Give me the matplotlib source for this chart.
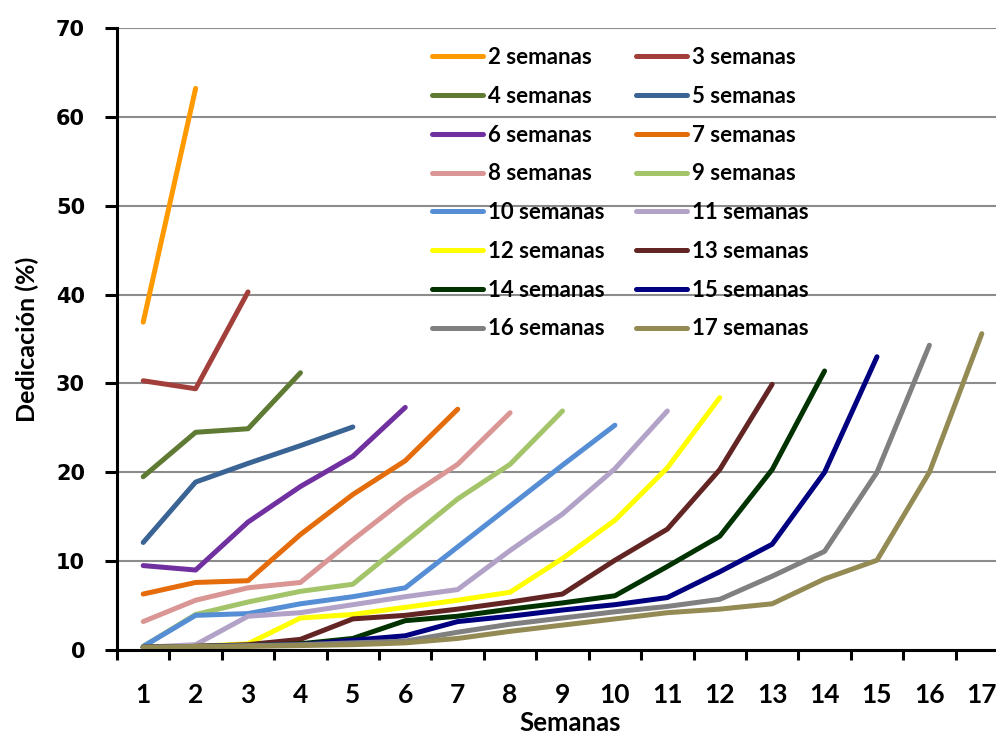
import matplotlib
matplotlib.use("Agg")
import matplotlib.pyplot as plt
from matplotlib.ticker import FixedLocator

# --- DATA (Dedicación por semana) ---
weeks = list(range(1, 18))
s2 = [36.9, 63.2]
s3 = [30.3, 29.4, 40.3]
s4 = [19.5, 24.5, 24.9, 31.2]
s5 = [12.1, 18.9, 21.0, 23.0, 25.1]
s6 = [9.5, 9.0, 14.4, 18.4, 21.8, 27.3]
s7 = [6.3, 7.6, 7.8, 13.0, 17.5, 21.3, 27.1]
s8 = [3.2, 5.6, 7.0, 7.6, 12.4, 17.0, 20.9, 26.7]
s9 = [0.4, 4.0, 5.4, 6.6, 7.4, 12.2, 17.0, 20.9, 26.9]
s10 = [0.4, 3.9, 4.1, 5.2, 6.0, 7.0, 11.6, 16.2, 20.8, 25.3]
s11 = [0.3, 0.6, 3.8, 4.2, 5.1, 6.0, 6.8, 11.2, 15.3, 20.4, 26.9]
s12 = [0.3, 0.4, 0.7, 3.6, 4.0, 4.8, 5.6, 6.5, 10.3, 14.6, 20.5, 28.4]
s13 = [0.3, 0.4, 0.6, 1.2, 3.5, 3.9, 4.6, 5.4, 6.3, 10.1, 13.6, 20.3, 29.9]
s14 = [0.3, 0.4, 0.5, 0.7, 1.3, 3.3, 3.8, 4.6, 5.3, 6.1, 9.4, 12.8, 20.3, 31.4]
s15 = [0.3, 0.4, 0.5, 0.6, 1.1, 1.6, 3.2, 3.8, 4.5, 5.1, 5.9, 8.8, 11.9, 20.0, 33.0]
s16 = [0.3, 0.4, 0.5, 0.6, 0.8, 1.0, 2.0, 2.9, 3.6, 4.3, 4.9, 5.7, 8.3, 11.1, 20.0, 34.3]
s17 = [0.3, 0.4, 0.4, 0.5, 0.6, 0.8, 1.3, 2.1, 2.8, 3.5, 4.2, 4.6, 5.2, 8.0, 10.1, 20.0, 35.6]

series = [s2, s3, s4, s5, s6, s7, s8, s9, s10, s11, s12, s13, s14, s15, s16, s17]
labels = [f"{len(s)} semanas" for s in series]
colors = ["#FF9900", "#A33F3A", "#5F7A32", "#3A6494", "#7030A0", "#E46C0A",
          "#DA9694", "#A4C46A", "#558ED5", "#B3A2C7", "#FFFF00", "#632523",
          "#003300", "#000080", "#808080", "#948A54"]

# --- FIGURE ---
fig = plt.figure(figsize=(9.96, 7.38), dpi=100)
ax = fig.add_axes([117 / 996, 88 / 738, 891 / 996, 622 / 738])

handles = []
for vals, lab, col in zip(series, labels, colors):
    h, = ax.plot(weeks[:len(vals)], vals, color=col, lw=3.6, label=lab,
                 solid_capstyle="round", solid_joinstyle="round", zorder=3)
    handles.append(h)

ax.set_xlim(0.5, 17.5)
ax.set_ylim(0, 70)

# grid
ax.set_yticks(range(0, 71, 10))
ax.yaxis.grid(True, color="#8c8c8c", lw=1.5, zorder=0)
ax.set_axisbelow(True)

# x axis: labels at categories, ticks between categories
ax.set_xticks(weeks)
ax.xaxis.set_minor_locator(FixedLocator([w + 0.5 for w in range(0, 18)]))
ax.tick_params(axis="x", which="major", length=0, pad=24)
ax.tick_params(axis="x", which="minor", length=7, width=2.2, direction="out", color="black")
ax.tick_params(axis="y", length=9, width=2.2, direction="out", pad=14)

for lbl in ax.get_xticklabels():
    lbl.set_fontfamily("Lato")
    lbl.set_fontweight("bold")
    lbl.set_fontsize(19)
for lbl in ax.get_yticklabels():
    lbl.set_fontfamily("DejaVu Sans")
    lbl.set_fontweight("bold")
    lbl.set_fontsize(15)

for side in ["top", "right"]:
    ax.spines[side].set_visible(False)
for side in ["left", "bottom"]:
    ax.spines[side].set_linewidth(2.2)
    ax.spines[side].set_color("black")
    ax.spines[side].set_zorder(4)

fig.text(570 / 996, 1 - 723 / 738, "Semanas", fontfamily="Lato", fontweight="bold",
         fontsize=18.5, ha="center", va="center")
ax.set_ylabel("Dedicación (%)", fontfamily="Lato", fontweight="bold", fontsize=18, labelpad=12)

# legend: row-major order (2,3 / 4,5 / ...)
order = list(range(0, 16, 2)) + list(range(1, 16, 2))
leg = fig.legend([handles[i] for i in order], [labels[i] for i in order],
                 loc="upper left", bbox_to_anchor=(432 / 996, 1 - 47 / 738),
                 ncol=2, frameon=False, borderpad=0, borderaxespad=0,
                 handlelength=2.3, handletextpad=0.22, columnspacing=1.4,
                 labelspacing=0.8, prop={"family": "Lato", "weight": "bold", "size": 16})

fig.savefig("out.png", dpi=100)
